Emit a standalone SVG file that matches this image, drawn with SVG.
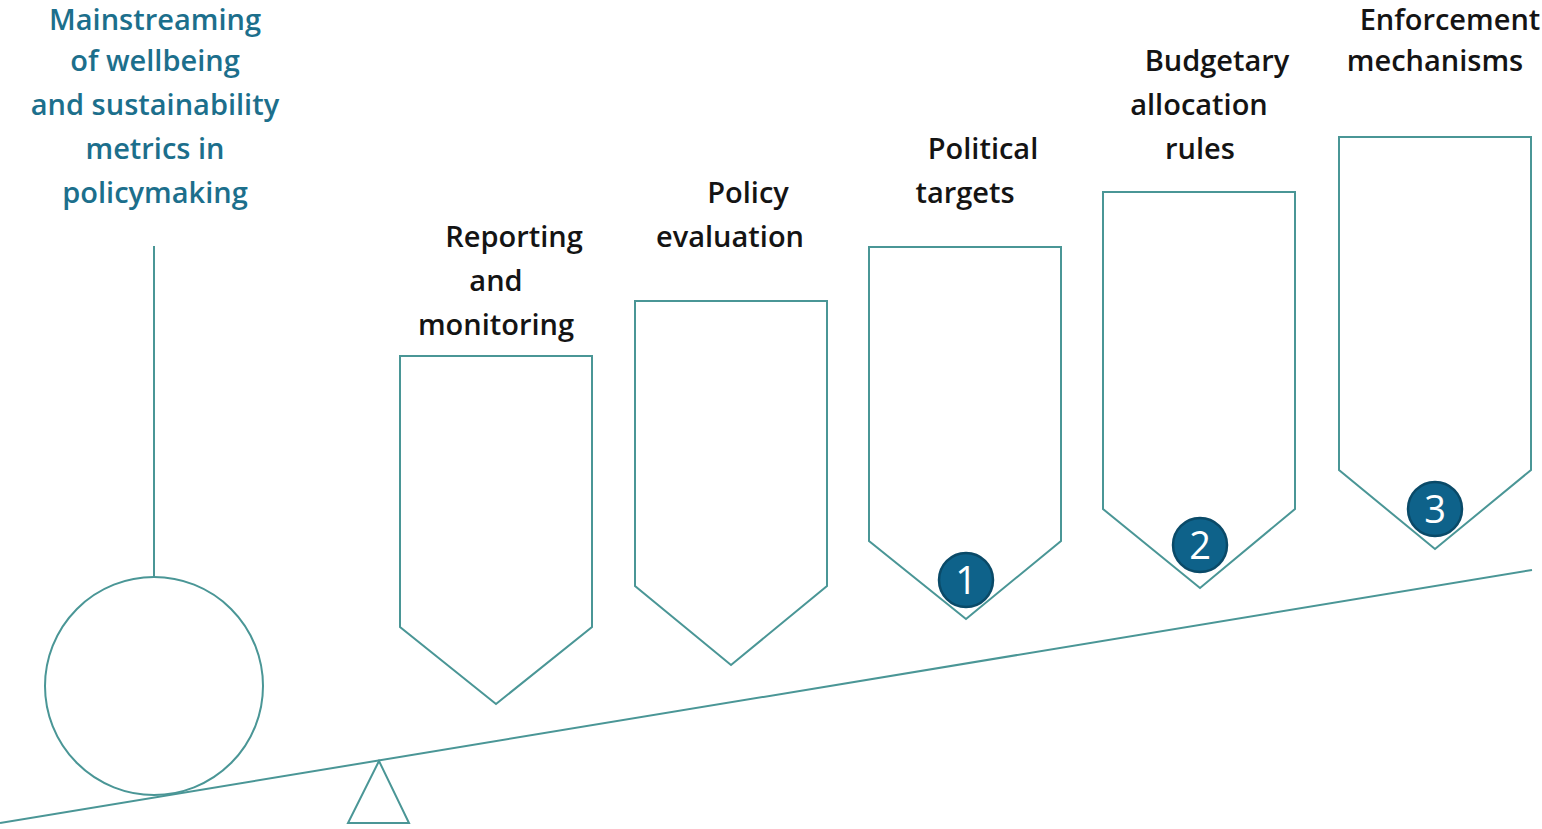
<svg xmlns="http://www.w3.org/2000/svg" width="1542" height="829" viewBox="0 0 1542 829">
<style>
.shape{fill:#ffffff;stroke:#4a9696;stroke-width:2}
.lbl{font-family:"Open Sans","Noto Sans",sans-serif;font-weight:600;font-size:29px;fill:#141414;text-anchor:middle}
.title{font-family:"Open Sans","Noto Sans",sans-serif;font-weight:600;font-size:29px;fill:#1c6f8c;text-anchor:middle}
.badge{fill:#0e628a;stroke:#0a4a68;stroke-width:2.5}
.num{font-family:"Open Sans","Noto Sans",sans-serif;font-size:38px;fill:#ffffff;text-anchor:middle}
</style>
<rect width="1542" height="829" fill="#ffffff"/>
<g id="title">
<text class="title" x="155" y="30">Mainstreaming</text>
<text class="title" x="155" y="71">of wellbeing</text>
<text class="title" x="155" y="115">and sustainability</text>
<text class="title" x="155" y="159">metrics in</text>
<text class="title" x="155" y="203">policymaking</text>
</g>
<g id="connectors">
<line class="shape" x1="154" y1="246" x2="154" y2="577"/>
<line class="shape" x1="0" y1="823" x2="1532" y2="570" stroke="#3f8a90"/>
</g>
<g id="weight">
<circle class="shape" cx="154" cy="686" r="109" stroke="#2f7a86"/>
</g>
<g id="fulcrum">
<polygon class="shape" points="379,761 348,823 409,823"/>
</g>
<g id="reporting">
<polygon class="shape" points="400,356 592,356 592,627 496,704 400,627"/>
<text class="lbl" x="514" y="247">Reporting</text>
<text class="lbl" x="496" y="291">and</text>
<text class="lbl" x="496" y="335">monitoring</text>
</g>
<g id="evaluation">
<polygon class="shape" points="635,301 827,301 827,586 731,665 635,586"/>
<text class="lbl" x="748" y="203">Policy</text>
<text class="lbl" x="730" y="247">evaluation</text>
</g>
<g id="targets">
<polygon class="shape" points="869,247 1061,247 1061,541 966,619 869,541"/>
<text class="lbl" x="983" y="159">Political</text>
<text class="lbl" x="965" y="203">targets</text>
<circle class="badge" cx="966" cy="580" r="27"/>
<text class="num" x="966" y="594">1</text>
</g>
<g id="budgetary">
<polygon class="shape" points="1103,192 1295,192 1295,509 1200,588 1103,509"/>
<text class="lbl" x="1217" y="71">Budgetary</text>
<text class="lbl" x="1199" y="115">allocation</text>
<text class="lbl" x="1200" y="159">rules</text>
<circle class="badge" cx="1200" cy="545" r="27"/>
<text class="num" x="1200" y="559">2</text>
</g>
<g id="enforcement">
<polygon class="shape" points="1339,137 1531,137 1531,470 1435,549 1339,470"/>
<text class="lbl" x="1450" y="30">Enforcement</text>
<text class="lbl" x="1435" y="71">mechanisms</text>
<circle class="badge" cx="1435" cy="509" r="27"/>
<text class="num" x="1435" y="523">3</text>
</g>
</svg>
